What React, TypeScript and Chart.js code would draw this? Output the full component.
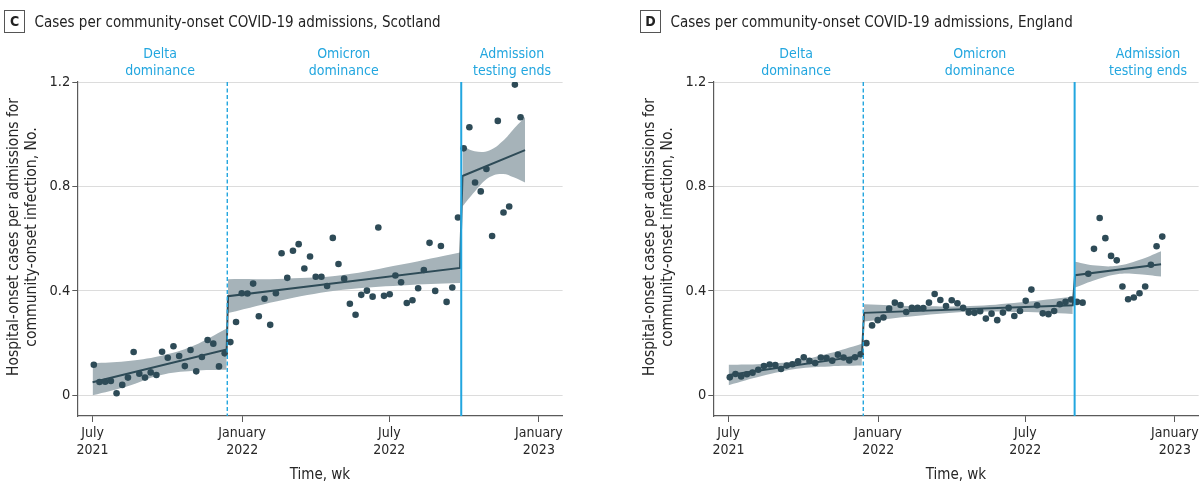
import { useEffect, useRef } from 'react';
import { Chart, registerables } from 'chart.js';

Chart.register(...registerables);

const FONT = '"DejaVu Sans Condensed", Roboto, sans-serif';
const INK = '#2e4b57';
const BAND = '#a6b3b9';
const BLUE = '#22a6df';
const AXIS = '#5a5a5a';
const GRID = '#dcdcdc';
const TEXT = '#262626';

// x is measured in days since 1 July 2021, one point per week
const xMin = -18.8;
const xMax = 578.2;
const firstWeekDay = 1.5;
const xTickDays = [0, 184, 365, 549];
const xTickLabels = [['July', '2021'], ['January', '2022'], ['July', '2022'], ['January', '2023']];
const yMin = -0.079;
const yMax = 1.2;
const yTicks = [0, 0.4, 0.8, 1.2];
const periodLabels = [['Delta', 'dominance'], ['Omicron', 'dominance'], ['Admission', 'testing ends']];
const periodLabelDays = [83, 309, 516];
const yTitle = ['Hospital-onset cases per admissions for', 'community-onset infection, No.'];

// Scotland
const scotlandBoundaries = [165.7, 453.5];
const scotlandRates = [
  0.117, 0.051, 0.052, 0.055, 0.008, 0.04, 0.068, 0.166, 0.083, 0.068,
  0.088, 0.078, 0.167, 0.144, 0.188, 0.151, 0.112, 0.174, 0.092, 0.147,
  0.212, 0.198, 0.111, 0.161, 0.204, 0.281, 0.391, 0.39, 0.428, 0.303,
  0.37, 0.27, 0.391, 0.544, 0.45, 0.554, 0.579, 0.486, 0.532, 0.454,
  0.454, 0.419, 0.603, 0.503, 0.447, 0.351, 0.309, 0.385, 0.401, 0.378,
  0.643, 0.381, 0.387, 0.459, 0.433, 0.354, 0.364, 0.41, 0.48, 0.584,
  0.4, 0.572, 0.358, 0.413, 0.681, 0.946, 1.027, 0.815, 0.781, 0.867,
  0.61, 1.051, 0.7, 0.723, 1.19, 1.065,
];
const scotlandFitDays = [0, 165, 166.6, 452, 455, 532];
const scotlandFitValues = [0.05, 0.176, 0.38, 0.488, 0.84, 0.939];
const scotlandBandDays = [
  [0, 41, 83, 124, 165],
  [166.6, 237, 308, 380, 452],
  [455, 470, 488, 505, 518, 532],
];
const scotlandBandUpper = [
  [0.123, 0.131, 0.151, 0.19, 0.256],
  [0.445, 0.447, 0.461, 0.501, 0.547],
  [0.955, 0.935, 0.938, 0.975, 1.02, 1.066],
];
const scotlandBandLower = [
  [0, 0.033, 0.077, 0.094, 0.098],
  [0.315, 0.367, 0.404, 0.421, 0.43],
  [0.723, 0.78, 0.835, 0.848, 0.835, 0.815],
];

// England
const englandBoundaries = [165.7, 425.7];
const englandRates = [
  0.069, 0.082, 0.072, 0.081, 0.087, 0.098, 0.112, 0.118, 0.116, 0.101,
  0.114, 0.119, 0.13, 0.146, 0.132, 0.124, 0.145, 0.143, 0.133, 0.156,
  0.145, 0.134, 0.146, 0.157, 0.2, 0.268, 0.288, 0.298, 0.332, 0.355,
  0.346, 0.319, 0.335, 0.335, 0.334, 0.355, 0.388, 0.365, 0.342, 0.364,
  0.353, 0.335, 0.317, 0.316, 0.322, 0.294, 0.313, 0.288, 0.317, 0.335,
  0.304, 0.323, 0.362, 0.405, 0.345, 0.314, 0.311, 0.323, 0.349, 0.358,
  0.367, 0.358, 0.355, 0.466, 0.561, 0.679, 0.602, 0.534, 0.517, 0.417,
  0.368, 0.375, 0.391, 0.417, 0.5, 0.571, 0.608,
];
const englandFitDays = [0, 164, 166.6, 423.4, 426.2, 532];
const englandFitValues = [0.078, 0.152, 0.316, 0.345, 0.46, 0.502];
const englandBandDays = [
  [0, 41, 84, 124, 164],
  [166.6, 230, 297, 360, 423.4],
  [426.2, 452, 478, 505, 532],
];
const englandBandUpper = [
  [0.117, 0.12, 0.132, 0.161, 0.198],
  [0.349, 0.342, 0.342, 0.357, 0.378],
  [0.512, 0.497, 0.496, 0.518, 0.552],
];
const englandBandLower = [
  [0.039, 0.074, 0.102, 0.111, 0.114],
  [0.283, 0.304, 0.32, 0.319, 0.312],
  [0.413, 0.443, 0.464, 0.464, 0.455],
];

interface PanelProps {
  left: number;
  letter: string;
  title: string;
  boundaries: number[];
  rates: number[];
  fitDays: number[];
  fitValues: number[];
  bandDays: number[][];
  bandUpper: number[][];
  bandLower: number[][];
}

function Panel({ left, letter, title, boundaries, rates, fitDays, fitValues, bandDays, bandUpper, bandLower }: PanelProps) {
  const canvasRef = useRef<HTMLCanvasElement>(null);

  useEffect(() => {
    if (!canvasRef.current) return;

    const datasets: any[] = [
      {
        data: rates.map((v, i) => ({ x: firstWeekDay + 7 * i, y: v })),
        showLine: false,
        pointRadius: 3.3,
        pointBorderWidth: 0,
        pointBackgroundColor: INK,
        order: 0,
      },
      {
        data: fitDays.map((d, i) => ({ x: d, y: fitValues[i] })),
        borderColor: INK,
        borderWidth: 2,
        pointRadius: 0,
        tension: 0,
        order: 1,
      },
    ];
    bandDays.forEach((days, s) => {
      const upperIndex = datasets.length;
      datasets.push({
        data: days.map((d, i) => ({ x: d, y: bandUpper[s][i] })),
        borderWidth: 0,
        borderColor: 'transparent',
        pointRadius: 0,
        tension: 0.4,
        fill: false,
        order: 2,
      });
      datasets.push({
        data: days.map((d, i) => ({ x: d, y: bandLower[s][i] })),
        borderWidth: 0,
        borderColor: 'transparent',
        backgroundColor: BAND,
        pointRadius: 0,
        tension: 0.4,
        fill: upperIndex,
        order: 2,
      });
    });

    const periodPlugin = {
      id: 'periods',
      afterDatasetsDraw(chart: Chart) {
        const { ctx, chartArea, scales } = chart;
        boundaries.forEach((day, i) => {
          const x = scales.x.getPixelForValue(day);
          ctx.save();
          ctx.strokeStyle = BLUE;
          ctx.lineWidth = i === 0 ? 1.4 : 2;
          ctx.setLineDash(i === 0 ? [4, 2.5] : []);
          ctx.beginPath();
          ctx.moveTo(x, chartArea.top);
          ctx.lineTo(x, chartArea.bottom);
          ctx.stroke();
          ctx.restore();
        });
      },
      afterDraw(chart: Chart) {
        const { ctx, scales } = chart;
        ctx.save();
        ctx.font = `14px ${FONT}`;
        ctx.fillStyle = BLUE;
        ctx.textAlign = 'center';
        ctx.textBaseline = 'middle';
        periodLabels.forEach((lines, i) => {
          const x = scales.x.getPixelForValue(periodLabelDays[i]);
          ctx.fillText(lines[0], x, 54);
          ctx.fillText(lines[1], x, 71);
        });
        ctx.fillStyle = TEXT;
        ctx.font = `15.5px ${FONT}`;
        ctx.translate(14, 237);
        ctx.rotate(-Math.PI / 2);
        yTitle.forEach((line, i) => ctx.fillText(line, 0, i * 18.3));
        ctx.restore();
      },
    };

    const chart = new Chart(canvasRef.current, {
      type: 'line',
      data: { datasets },
      plugins: [periodPlugin],
      options: {
        animation: false,
        responsive: true,
        maintainAspectRatio: false,
        events: [],
        layout: { padding: { top: 82, right: 37.4, left: 0, bottom: 0 } },
        plugins: {
          legend: { display: false },
          tooltip: { enabled: false },
        },
        scales: {
          x: {
            type: 'linear',
            min: xMin,
            max: xMax,
            afterBuildTicks: (scale: any) => {
              scale.ticks = xTickDays.map((v) => ({ value: v }));
            },
            afterFit: (scale: any) => {
              scale.height = 70;
            },
            ticks: {
              autoSkip: false,
              maxRotation: 0,
              padding: 3,
              color: TEXT,
              font: { family: FONT, size: 14, lineHeight: 1.22 },
              callback: (_v: any, index: number) => xTickLabels[index],
            },
            grid: { drawOnChartArea: false, tickLength: 6, tickColor: AXIS, tickWidth: 1 },
            border: { color: AXIS, width: 1.2 },
            title: {
              display: true,
              text: 'Time, wk',
              color: TEXT,
              font: { family: FONT, size: 15, lineHeight: 1.2 },
              padding: { top: 0, bottom: 2 },
            },
          },
          y: {
            min: yMin,
            max: yMax,
            afterBuildTicks: (scale: any) => {
              scale.ticks = yTicks.map((v) => ({ value: v }));
            },
            afterFit: (scale: any) => {
              scale.width = 77.3;
            },
            ticks: {
              padding: 2,
              color: TEXT,
              font: { family: FONT, size: 14.5 },
              callback: (v: any) => String(v),
            },
            grid: { color: GRID, lineWidth: 1, tickLength: 5, tickColor: AXIS, tickWidth: 1 },
            border: { color: AXIS, width: 1.2 },
          },
        },
      },
    });

    return () => chart.destroy();
  }, [boundaries, rates, fitDays, fitValues, bandDays, bandUpper, bandLower]);

  return (
    <div style={{ position: 'absolute', left, top: 0, width: 600, height: 486 }}>
      <canvas ref={canvasRef}></canvas>
      <div
        style={{
          position: 'absolute', left: 4, top: 10, width: 21, height: 23, boxSizing: 'border-box',
          border: '1px solid #555', fontFamily: FONT, fontWeight: 700, fontSize: 14, color: '#222',
          lineHeight: '21px', textAlign: 'center',
        }}
      >
        {letter}
      </div>
      <div
        style={{
          position: 'absolute', left: 34.5, top: 11, height: 22, lineHeight: '22px',
          fontFamily: FONT, fontSize: 15, color: '#222', whiteSpace: 'nowrap',
        }}
      >
        {title}
      </div>
    </div>
  );
}

export default function App() {
  return (
    <div style={{ position: 'absolute', left: 0, top: 0, width: 1200, height: 486, overflow: 'hidden', background: '#fff' }}>
      <Panel
        left={0}
        letter="C"
        title="Cases per community-onset COVID-19 admissions, Scotland"
        boundaries={scotlandBoundaries}
        rates={scotlandRates}
        fitDays={scotlandFitDays}
        fitValues={scotlandFitValues}
        bandDays={scotlandBandDays}
        bandUpper={scotlandBandUpper}
        bandLower={scotlandBandLower}
      />
      <Panel
        left={636}
        letter="D"
        title="Cases per community-onset COVID-19 admissions, England"
        boundaries={englandBoundaries}
        rates={englandRates}
        fitDays={englandFitDays}
        fitValues={englandFitValues}
        bandDays={englandBandDays}
        bandUpper={englandBandUpper}
        bandLower={englandBandLower}
      />
    </div>
  );
}
